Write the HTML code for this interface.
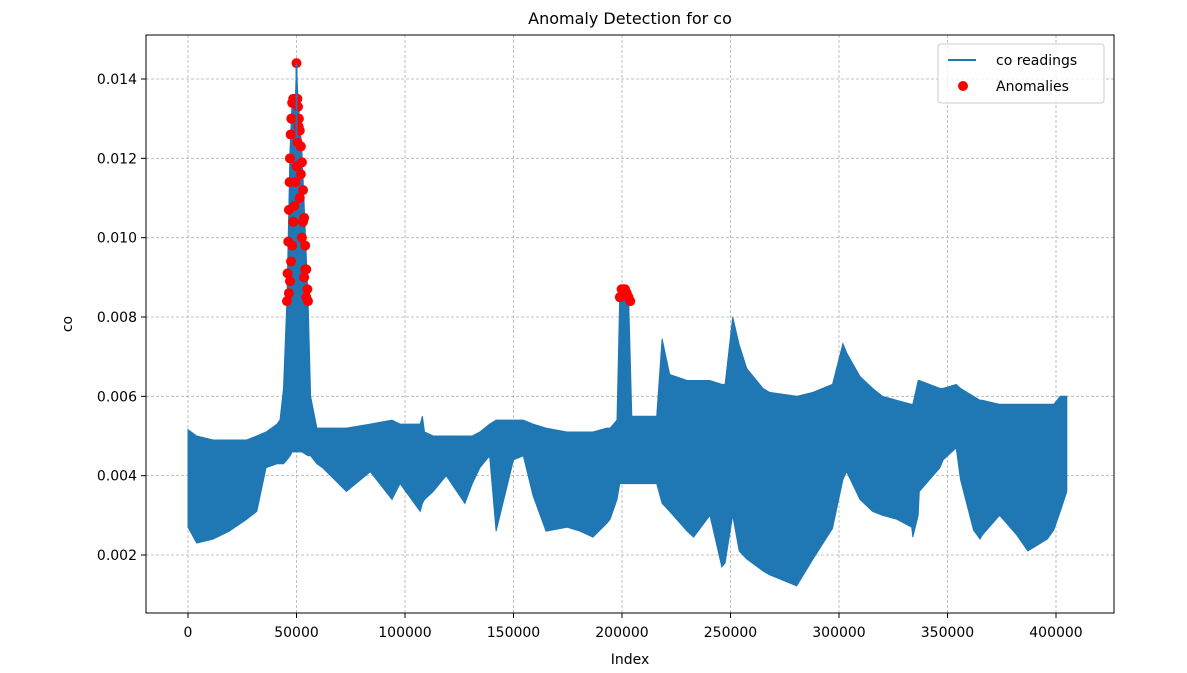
<!DOCTYPE html>
<html><head><meta charset="utf-8"><style>
body{margin:0;background:#fff;font-family:"Liberation Sans","DejaVu Sans",sans-serif}
svg text{font-family:"DejaVu Sans","Liberation Sans",sans-serif;fill:#000}
</style></head><body>
<svg id="chart" width="1187" height="668" xmlns="http://www.w3.org/2000/svg">
<rect width="1187" height="668" fill="#fff"/>
<g id="grid"></g>
<g id="series"></g>
<g id="anoms"></g>
<rect x="146" y="35" width="968" height="578" fill="none" stroke="#000" stroke-width="1"/>
<g id="axes"></g>
<text x="630" y="24" font-size="16" text-anchor="middle">Anomaly Detection for co</text>
<text x="630" y="664" font-size="14" text-anchor="middle">Index</text>
<text x="72" y="324" font-size="14" text-anchor="middle" transform="rotate(-90 72 324)">co</text>
<g>
<rect x="938" y="44" width="166" height="59" rx="3" fill="#fff" fill-opacity="0.8" stroke="#ccc"/>
<line x1="948" y1="60" x2="976" y2="60" stroke="#1f77b4" stroke-width="2"/>
<text x="996" y="65" font-size="14">co readings</text>
<circle cx="963" cy="86" r="5" fill="red"/>
<text x="996" y="91" font-size="14">Anomalies</text>
</g>
</svg>
<script>
const idx=[0,4000,11500,19000,27000,31700,36000,41000,42400,44000,45600,47000,48000,49500,50000,50700,52500,55300,56500,59400,62000,73000,84000,94000,97700,107000,108000,109000,113000,116000,119000,127600,131000,134500,139000,142000,150000,154500,159000,165000,174600,180700,186600,193000,194500,197700,199000,200000,203000,204500,207000,216000,218500,222000,230000,233000,240500,246000,247500,251000,254000,257500,265000,268000,280500,288000,297000,301800,303500,309700,315500,320000,326700,333500,334000,336500,337000,346500,348000,354000,356000,362000,365000,366000,374000,382000,387000,396000,399000,402000,405000];
const upper=[0.00516,0.0050,0.0049,0.0049,0.0049,0.0050,0.0051,0.0053,0.0054,0.0062,0.0085,0.0122,0.0135,0.0135,0.0144,0.0135,0.0122,0.0085,0.0060,0.0052,0.0052,0.0052,0.0053,0.0054,0.0053,0.0053,0.0055,0.0051,0.0050,0.0050,0.0050,0.0050,0.0050,0.0051,0.0053,0.0054,0.0054,0.0054,0.0053,0.0052,0.0051,0.0051,0.0051,0.0052,0.0052,0.0054,0.0086,0.0087,0.0086,0.0055,0.0055,0.0055,0.00745,0.00655,0.0064,0.0064,0.0064,0.0063,0.0063,0.0080,0.0073,0.0067,0.0062,0.0061,0.0060,0.0061,0.0063,0.00733,0.0071,0.0065,0.0062,0.0060,0.0059,0.0058,0.0058,0.0064,0.0064,0.0062,0.0062,0.0063,0.0062,0.0060,0.0059,0.0059,0.0058,0.0058,0.0058,0.0058,0.0058,0.0060,0.0060];
const lower=[0.0027,0.0023,0.0024,0.0026,0.0029,0.0031,0.0042,0.0043,0.0043,0.0043,0.0044,0.0045,0.0046,0.0046,0.0046,0.0046,0.0046,0.0045,0.0045,0.0043,0.0042,0.0036,0.0041,0.0034,0.0038,0.0031,0.0033,0.0034,0.0036,0.0038,0.0040,0.0033,0.0038,0.0042,0.0045,0.0026,0.0044,0.0045,0.0035,0.0026,0.0027,0.0026,0.00245,0.0028,0.0029,0.0034,0.0038,0.0038,0.0038,0.0038,0.0038,0.0038,0.0033,0.0031,0.0026,0.00245,0.0030,0.0017,0.0018,0.0030,0.0021,0.0019,0.0016,0.0015,0.00122,0.0019,0.00267,0.0039,0.0041,0.0034,0.0031,0.0030,0.0029,0.0027,0.00245,0.0030,0.0036,0.0042,0.0044,0.0047,0.0039,0.00263,0.0024,0.0025,0.0030,0.0025,0.0021,0.0024,0.00263,0.0031,0.0036];
const anomIdx=[45600,45900,46200,46500,46800,47000,47300,47600,48000,48500,49000,49500,50000,50400,50700,51100,51500,52000,52500,53000,53500,54000,54500,55000,55300,46500,47500,48500,49500,50500,51500,52500,53500,54500,47000,48000,49000,50000,51000,52000,53000,54000,199000,199800,200600,201400,202200,203000,203800];
const anomVal=[0.0084,0.0091,0.0099,0.0107,0.0114,0.0120,0.0126,0.0130,0.0134,0.0135,0.0135,0.0135,0.0144,0.0135,0.0133,0.0130,0.0127,0.0123,0.0119,0.0112,0.0105,0.0098,0.0092,0.0087,0.0084,0.0086,0.0094,0.0104,0.0114,0.0124,0.0110,0.0100,0.0090,0.0085,0.0089,0.0098,0.0108,0.0118,0.0128,0.0116,0.0104,0.0092,0.0085,0.0087,0.0087,0.0087,0.0086,0.0085,0.0084];
const xTicks=[0,50000,100000,150000,200000,250000,300000,350000,400000];
const yTicks=[0.002,0.004,0.006,0.008,0.010,0.012,0.014];
const X=i=>188+i*108.5/50000;
const Y=v=>79+(0.014-v)*39666;
const NS="http://www.w3.org/2000/svg";
function mk(t,a,p){const e=document.createElementNS(NS,t);for(const k in a)e.setAttribute(k,a[k]);p.appendChild(e);return e;}
const grid=document.getElementById('grid'),axes=document.getElementById('axes');
xTicks.forEach(t=>{
 const g=mk('line',{x1:X(t),x2:X(t),y1:35,y2:613,stroke:'#b0b0b0','stroke-width':0.8,'stroke-dasharray':'3,2'},grid);
 
 
 const tk=mk('line',{x1:X(t),x2:X(t),y1:613,y2:618,stroke:'#000'},axes);
 
 
 const l=mk('text',{x:X(t),y:637,'font-size':14,'text-anchor':'middle'},axes);l.textContent=t;
 
 
});
yTicks.forEach(t=>{
 const g=mk('line',{x1:146,x2:1114,y1:Y(t),y2:Y(t),stroke:'#b0b0b0','stroke-width':0.8,'stroke-dasharray':'3,2'},grid);
 
 
 const tk=mk('line',{x1:141,x2:146,y1:Y(t),y2:Y(t),stroke:'#000'},axes);
 
 
 const l=mk('text',{x:137,y:Y(t)+5,'font-size':14,'text-anchor':'end'},axes);l.textContent=t.toFixed(3);
 
 
});
let pts=idx.map((i,k)=>X(i).toFixed(1)+','+Y(upper[k]).toFixed(1));
for(let k=idx.length-1;k>=0;k--)pts.push(X(idx[k]).toFixed(1)+','+Y(lower[k]).toFixed(1));
const band=mk('polygon',{points:pts.join(' '),fill:'#1f77b4',stroke:'#1f77b4','stroke-width':1},document.getElementById('series'));


const ag=document.getElementById('anoms');
anomIdx.forEach((i,k)=>{
 const c=mk('circle',{cx:X(i),cy:Y(anomVal[k]),r:5,fill:'red'},ag);
 
 
});
const peakLine=mk('line',{x1:X(50000),x2:X(50000),y1:Y(0.0144),y2:Y(0.0125),stroke:'#1f77b4','stroke-width':2},document.getElementById('chart'));


</script>
</body></html>
